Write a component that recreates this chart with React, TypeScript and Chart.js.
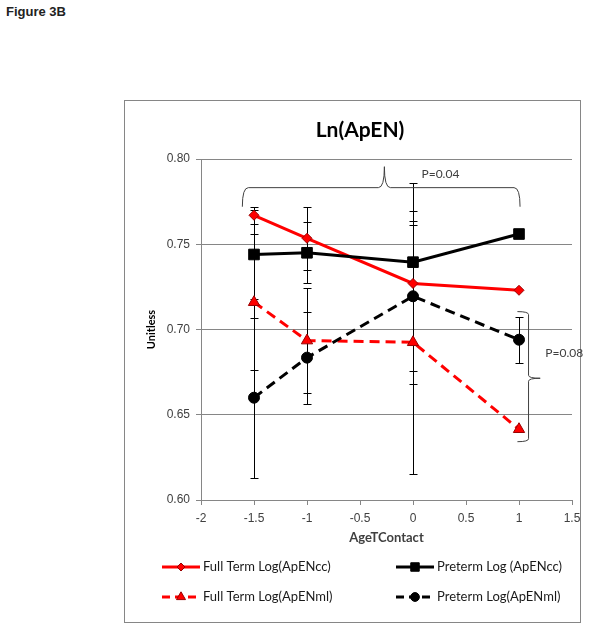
import React, { useEffect, useRef } from "react";
import { Chart, registerables } from "chart.js";
import { drawPoint } from "chart.js/helpers";

Chart.register(...registerables);

// ---- data ----
const ageTContact = [-1.5, -1, 0, 1];

const fullTermCc = [0.767, 0.7535, 0.727, 0.723];
const fullTermCcErr = [0.005, 0.0185, 0.059, 0];

const pretermCc = [0.744, 0.745, 0.7395, 0.756];
const pretermCcErr = [0.026, 0.018, 0.0215, 0];

const fullTermMl = [0.716, 0.6935, 0.6925, 0.6415];
const fullTermMlErr = [0.04, 0.031, 0.077, 0];

const pretermMl = [0.66, 0.6835, 0.7195, 0.694];
const pretermMlErr = [0.047, 0.027, 0.044, 0.0135];

const seriesLabels = [
  "Full Term Log(ApENcc)",
  "Preterm Log (ApENcc)",
  "Full Term Log(ApENml)",
  "Preterm Log(ApENml)",
];
const seriesValues = [fullTermCc, pretermCc, fullTermMl, pretermMl];
const seriesErrors = [fullTermCcErr, pretermCcErr, fullTermMlErr, pretermMlErr];

const chartTitle = "Ln(ApEN)";
const xTitle = "AgeTContact";
const yTitle = "Unitless";
const xMin = -2, xMax = 1.5, xStep = 0.5;
const yMin = 0.6, yMax = 0.8, yStep = 0.05;

const pTopLabel = "P=0.04";
const pRightLabel = "P=0.08";

// ---- styles ----
const RED = "#FF0000";
const RED_EDGE = "#9A0000";
const BLACK = "#000000";
const GRID = "#868686";
const TEXT = "#404040";
const CAL = "Lato, 'Liberation Sans', sans-serif";
const ARIAL = "'Liberation Sans', Arial, sans-serif";

const styles = [
  { color: RED, edge: RED_EDGE, dash: [], point: "rectRot", radius: 5 },
  { color: BLACK, edge: BLACK, dash: [], point: "rect", radius: 7.5 },
  { color: RED, edge: RED_EDGE, dash: [10, 6], point: "triangle", radius: 6.5 },
  { color: BLACK, edge: BLACK, dash: [10, 6], point: "circle", radius: 5.5 },
];

const errorBarPlugin = {
  id: "errorBars",
  beforeDatasetsDraw(chart: any) {
    const { ctx, scales } = chart;
    const x = scales.x, y = scales.y;
    ctx.save();
    ctx.strokeStyle = BLACK;
    ctx.lineWidth = 1;
    ctx.setLineDash([]);
    seriesErrors.forEach((errs, d) => {
      const vals = seriesValues[d];
      ageTContact.forEach((a, i) => {
        const e = errs[i];
        if (!e) return;
        const px = Math.round(x.getPixelForValue(a)) + 0.5;
        const top = Math.round(y.getPixelForValue(vals[i] + e)) + 0.5;
        const bot = Math.round(y.getPixelForValue(vals[i] - e)) + 0.5;
        ctx.beginPath();
        ctx.moveTo(px, top);
        ctx.lineTo(px, bot);
        ctx.moveTo(px - 4, top);
        ctx.lineTo(px + 4, top);
        ctx.moveTo(px - 4, bot);
        ctx.lineTo(px + 4, bot);
        ctx.stroke();
      });
    });
    ctx.restore();
  },
};

const decorPlugin = {
  id: "decor",
  afterDraw(chart: any) {
    const { ctx, scales } = chart;
    const x = scales.x, y = scales.y;
    ctx.save();

    // title
    ctx.fillStyle = BLACK;
    ctx.font = `bold 21px ${CAL}`;
    ctx.textAlign = "center";
    ctx.textBaseline = "middle";
    ctx.fillText(chartTitle, 235, 29);

    // top brace
    ctx.strokeStyle = TEXT;
    ctx.lineWidth = 1;
    ctx.setLineDash([]);
    {
      const x1 = x.getPixelForValue(-1.61);
      const x2 = x.getPixelForValue(1.01);
      const xp = x.getPixelForValue(-0.27);
      const yb = y.getPixelForValue(0.7832);
      const yt = y.getPixelForValue(0.772);
      const yp = y.getPixelForValue(0.7955);
      const r = 6;
      ctx.beginPath();
      ctx.moveTo(x1, yt);
      ctx.quadraticCurveTo(x1, yb, x1 + r, yb);
      ctx.lineTo(xp - r, yb);
      ctx.quadraticCurveTo(xp, yb, xp, yp);
      ctx.quadraticCurveTo(xp, yb, xp + r, yb);
      ctx.lineTo(x2 - r, yb);
      ctx.quadraticCurveTo(x2, yb, x2, yt);
      ctx.stroke();
    }
    // right brace
    {
      const xb = x.getPixelForValue(1.09);
      const xt = x.getPixelForValue(0.985);
      const xp = x.getPixelForValue(1.2);
      const y1 = y.getPixelForValue(0.7105);
      const y2 = y.getPixelForValue(0.6342);
      const yp = y.getPixelForValue(0.6714);
      const r = 3;
      ctx.beginPath();
      ctx.moveTo(xt, y1);
      ctx.quadraticCurveTo(xb, y1, xb, y1 + r);
      ctx.lineTo(xb, yp - r);
      ctx.quadraticCurveTo(xb, yp, xp, yp);
      ctx.quadraticCurveTo(xb, yp, xb, yp + r);
      ctx.lineTo(xb, y2 - r);
      ctx.quadraticCurveTo(xb, y2, xt, y2);
      ctx.stroke();
    }
    ctx.fillStyle = TEXT;
    ctx.font = `12px ${CAL}`;
    ctx.textAlign = "left";
    ctx.textBaseline = "middle";
    ctx.fillText(pTopLabel, x.getPixelForValue(0.08), y.getPixelForValue(0.791));
    ctx.fillText(pRightLabel, x.getPixelForValue(1.248), y.getPixelForValue(0.686));

    // legend
    const cols = [37, 271];
    const rows = [466, 496];
    const lineLen = 38;
    chart.data.datasets.forEach((ds: any, i: number) => {
      const st = styles[i];
      const lx = cols[i % 2];
      const ly = rows[Math.floor(i / 2)];
      ctx.save();
      ctx.strokeStyle = st.color;
      ctx.lineWidth = 3;
      ctx.setLineDash(st.dash.length ? [8, 5] : []);
      ctx.beginPath();
      ctx.moveTo(lx, ly);
      ctx.lineTo(lx + lineLen, ly);
      ctx.stroke();
      ctx.setLineDash([]);
      ctx.fillStyle = st.color;
      ctx.strokeStyle = st.edge;
      ctx.lineWidth = 1;
      drawPoint(ctx, { pointStyle: st.point, rotation: 0, radius: st.radius * 0.8, borderWidth: 1 } as any, lx + lineLen / 2, ly);
      ctx.restore();
      ctx.fillStyle = "#1a1a1a";
      ctx.font = `13px ${CAL}`;
      ctx.textAlign = "left";
      ctx.textBaseline = "middle";
      ctx.fillText(ds.label, lx + lineLen + 3, ly);
    });
    ctx.restore();
  },
};

export default function App() {
  const ref = useRef<HTMLCanvasElement>(null);
  useEffect(() => {
    if (!ref.current) return;
    const chart = new Chart(ref.current, {
      type: "line",
      data: {
        datasets: seriesValues.map((vals, i) => ({
          label: seriesLabels[i],
          data: ageTContact.map((a, j) => ({ x: a, y: vals[j] })),
          borderColor: styles[i].color,
          backgroundColor: styles[i].color,
          borderWidth: 3,
          borderDash: styles[i].dash,
          pointStyle: styles[i].point as any,
          pointRadius: styles[i].radius,
          pointBackgroundColor: styles[i].color,
          pointBorderColor: styles[i].edge,
          pointBorderWidth: 1,
          tension: 0,
          order: 3 - i,
        })),
      },
      options: {
        responsive: false,
        animation: false,
        events: [],
        layout: { padding: { top: 58, left: 0, right: 28, bottom: 72 } },
        plugins: { legend: { display: false }, title: { display: false }, tooltip: { enabled: false } },
        scales: {
          x: {
            type: "linear",
            min: xMin,
            max: xMax,
            afterFit: (s: any) => { s.height = 50; },
            ticks: {
              stepSize: xStep,
              color: TEXT,
              font: { family: ARIAL, size: 12 },
              padding: 6,
              callback: (v: any) => String(Number(v)),
            },
            grid: { drawOnChartArea: false, drawTicks: true, tickLength: 5, color: GRID },
            border: { display: true, color: GRID },
            title: {
              display: true,
              text: xTitle,
              color: TEXT,
              font: { family: CAL, size: 13, weight: "bold" },
              padding: { top: 0, bottom: 4 },
            },
          },
          y: {
            type: "linear",
            min: yMin,
            max: yMax,
            afterFit: (s: any) => { s.width = 76; },
            ticks: {
              stepSize: yStep,
              color: TEXT,
              font: { family: ARIAL, size: 12 },
              padding: 6,
              callback: (v: any) => Number(v).toFixed(2),
            },
            grid: { drawOnChartArea: true, drawTicks: true, tickLength: 5, color: GRID },
            border: { display: true, color: GRID },
            title: {
              display: true,
              text: yTitle,
              color: BLACK,
              font: { family: CAL, size: 11, weight: "bold" },
              padding: { top: 20, bottom: 0 },
            },
          },
        },
      },
      plugins: [errorBarPlugin, decorPlugin],
    });
    return () => chart.destroy();
  }, []);

  return (
    <div style={{ position: "absolute", left: 0, top: 0, width: 602, height: 629, background: "#fff" }}>
      <div
        style={{
          position: "absolute",
          left: 6,
          top: 4,
          fontFamily: ARIAL,
          fontWeight: "bold",
          fontSize: 13,
          color: "#222",
        }}
      >
        Figure 3B
      </div>
      <div
        style={{
          position: "absolute",
          left: 124,
          top: 100,
          width: 455,
          height: 521,
          border: `1px solid ${GRID}`,
        }}
      />
      <canvas
        ref={ref}
        width={475}
        height={521}
        style={{ position: "absolute", left: 125, top: 101, display: "block", width: 475, height: 521 }}
      />
    </div>
  );
}
